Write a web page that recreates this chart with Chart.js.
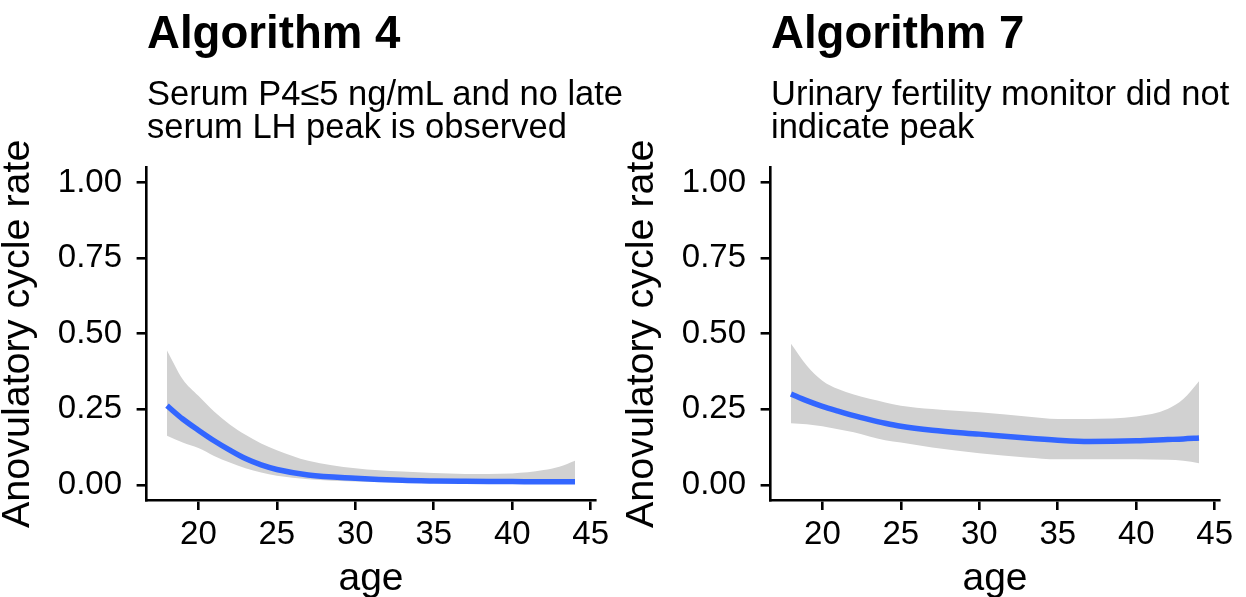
<!DOCTYPE html>
<html>
<head>
<meta charset="utf-8">
<title>Anovulatory cycle rate by age</title>
<script src="https://cdn.jsdelivr.net/npm/chart.js@4.4.1/dist/chart.umd.min.js"></script>
<style>
  body { margin: 0; width: 1246px; height: 597px; overflow: hidden; background: #fff; position: relative;
         font-family: 'Liberation Sans', Arial, Helvetica, sans-serif; color: #000; }
  .panel { position: absolute; top: 0; width: 623px; height: 597px; }
  .panel canvas { position: absolute; left: 0; top: 0; }
  .title { position: absolute; left: 147px; top: 10px; font-size: 45.6px; font-weight: bold; line-height: 1; white-space: nowrap; }
  .subtitle { position: absolute; left: 147px; top: 77px; font-size: 34.5px; line-height: 33.3px; white-space: nowrap; }
</style>
</head>
<body>
<div class="panel" style="left:0">
  <canvas id="alg4" width="623" height="597"></canvas>
  <div class="title">Algorithm 4</div>
  <div class="subtitle">Serum P4≤5 ng/mL and no late<br>serum LH peak is observed</div>
</div>
<div class="panel" style="left:624px">
  <canvas id="alg7" width="623" height="597"></canvas>
  <div class="title">Algorithm 7</div>
  <div class="subtitle">Urinary fertility monitor did not<br>indicate peak</div>
</div>
<script>
// smoothed fit and confidence band, sampled at these ages
const ages = [18, 19, 20, 21, 22, 23, 24, 25, 27, 30, 33, 35, 37, 40, 42, 43, 44];

const alg4Fit   = [0.262, 0.218, 0.181, 0.146, 0.115, 0.087, 0.066, 0.051, 0.033, 0.022, 0.015, 0.013, 0.012, 0.011, 0.010, 0.010, 0.010];
const alg4Upper = [0.445, 0.350, 0.295, 0.243, 0.200, 0.166, 0.137, 0.115, 0.080, 0.055, 0.044, 0.039, 0.036, 0.038, 0.049, 0.060, 0.080];
const alg4Lower = [0.163, 0.140, 0.122, 0.096, 0.074, 0.055, 0.041, 0.030, 0.019, 0.011, 0.008, 0.007, 0.006, 0.006, 0.005, 0.005, 0.004];

const alg7Fit   = [0.301, 0.279, 0.260, 0.244, 0.229, 0.216, 0.204, 0.194, 0.181, 0.168, 0.155, 0.148, 0.144, 0.146, 0.150, 0.152, 0.155];
const alg7Upper = [0.467, 0.395, 0.345, 0.317, 0.299, 0.285, 0.273, 0.262, 0.251, 0.240, 0.226, 0.218, 0.218, 0.226, 0.251, 0.284, 0.343];
const alg7Lower = [0.204, 0.201, 0.194, 0.184, 0.174, 0.160, 0.148, 0.140, 0.124, 0.105, 0.091, 0.085, 0.085, 0.085, 0.083, 0.080, 0.072];

const xTicks = [20, 25, 30, 35, 40, 45];
const yTicks = [0, 0.25, 0.5, 0.75, 1];

Chart.defaults.font.family = "'Liberation Sans', Arial, Helvetica, sans-serif";
Chart.defaults.color = '#000';

function points(ys) {
  return ages.map((a, i) => ({ x: a, y: ys[i] }));
}

const axisLine = { display: true, color: '#000', width: 2.6 };
const tickMarks = { display: true, drawOnChartArea: false, drawTicks: true, tickLength: 10, color: '#000', lineWidth: 2.6 };

function drawPanel(id, fit, upper, lower) {
  const ctx = document.getElementById(id).getContext('2d');
  return new Chart(ctx, {
    type: 'line',
    data: {
      datasets: [
        { data: points(fit), borderColor: '#3366ff', borderWidth: 5.5, pointRadius: 0,
          cubicInterpolationMode: 'monotone', fill: false },
        { data: points(upper), borderColor: 'rgba(0,0,0,0)', borderWidth: 0, pointRadius: 0,
          cubicInterpolationMode: 'monotone', fill: '+1', backgroundColor: '#d1d1d1' },
        { data: points(lower), borderColor: 'rgba(0,0,0,0)', borderWidth: 0, pointRadius: 0,
          cubicInterpolationMode: 'monotone', fill: false }
      ]
    },
    options: {
      responsive: false,
      animation: false,
      events: [],
      layout: { padding: { top: 167.6, right: 27.6, left: 0, bottom: 0 } },
      plugins: { legend: { display: false }, tooltip: { enabled: false } },
      scales: {
        x: {
          type: 'linear', min: 16.7, max: 45.3,
          afterBuildTicks: s => { s.ticks = xTicks.map(v => ({ value: v })); },
          afterFit: s => { s.height = 97; },
          border: axisLine, grid: tickMarks,
          ticks: { font: { size: 33 }, padding: 5.5, maxRotation: 0 },
          title: { display: true, text: 'age', font: { size: 39, lineHeight: 1 }, padding: { top: 0, bottom: -2 } }
        },
        y: {
          type: 'linear', min: -0.05, max: 1.05,
          afterBuildTicks: s => { s.ticks = yTicks.map(v => ({ value: v })); },
          afterFit: s => { s.width = 146.6; },
          border: axisLine, grid: tickMarks,
          ticks: { font: { size: 33 }, padding: 14.6, callback: v => v.toFixed(2) },
          title: { display: true, text: 'Anovulatory cycle rate', font: { size: 39.5, lineHeight: 0.9 }, padding: { top: 0, bottom: 0 } }
        }
      }
    }
  });
}

drawPanel('alg4', alg4Fit, alg4Upper, alg4Lower);
drawPanel('alg7', alg7Fit, alg7Upper, alg7Lower);
</script>
</body>
</html>
